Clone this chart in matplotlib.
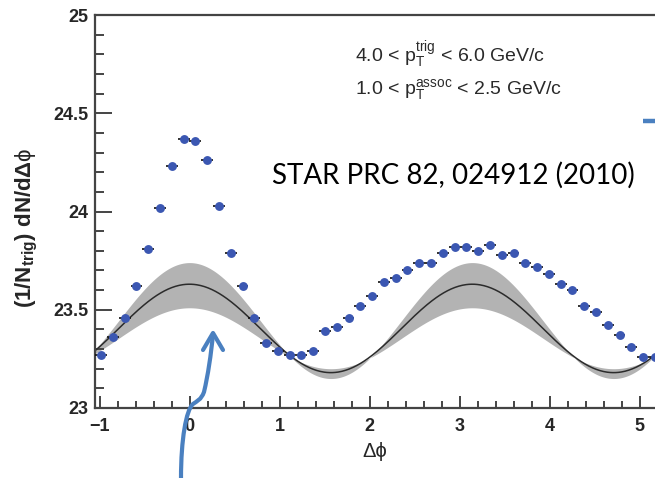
import numpy as np
import matplotlib
matplotlib.use("Agg")
import matplotlib.pyplot as plt
from matplotlib.path import Path
from matplotlib.patches import PathPatch
from matplotlib.lines import Line2D
from matplotlib.ticker import MultipleLocator
import matplotlib.transforms as mtransforms

plt.rcParams['mathtext.fontset'] = 'custom'
plt.rcParams['mathtext.rm'] = 'Liberation Sans'
plt.rcParams['mathtext.bf'] = 'Liberation Sans:bold'
plt.rcParams['mathtext.it'] = 'Liberation Sans:italic'
plt.rcParams['mathtext.fallback'] = 'stixsans'

# ---------------- data ----------------
dphi = [-0.982, -0.851, -0.720, -0.589, -0.458, -0.327, -0.196, -0.065,
        0.065, 0.196, 0.327, 0.458, 0.589, 0.720, 0.851, 0.982,
        1.113, 1.244, 1.374, 1.505, 1.636, 1.767, 1.898, 2.029,
        2.160, 2.291, 2.422, 2.553, 2.683, 2.814, 2.945, 3.076,
        3.207, 3.338, 3.469, 3.600, 3.731, 3.862, 3.993, 4.124,
        4.255, 4.386, 4.516, 4.647, 4.778, 4.909, 5.040, 5.171]
yield_vals = [23.27, 23.36, 23.46, 23.62, 23.81, 24.02, 24.23, 24.37,
              24.36, 24.26, 24.03, 23.79, 23.62, 23.46, 23.33, 23.29,
              23.27, 23.27, 23.29, 23.39, 23.41, 23.46, 23.52, 23.57,
              23.64, 23.66, 23.70, 23.74, 23.74, 23.79, 23.82, 23.82,
              23.80, 23.83, 23.78, 23.79, 23.74, 23.72, 23.68, 23.63,
              23.60, 23.52, 23.49, 23.42, 23.37, 23.31, 23.26, 23.26]
half_bin = 0.0654
yield_err = 0.008

# flow background (1 + 2 v2 cos 2dphi): max / min for high, central, low v2
flow_max = [23.74, 23.63, 23.51]
flow_min = [23.15, 23.18, 23.20]

xlim = (-1.05, 5.172)
ylim = (23.0, 25.0)
xticks = [-1, 0, 1, 2, 3, 4, 5]
yticks = [23, 23.5, 24, 24.5, 25]
ytick_labels = ['23', '23.5', '24', '24.5', '25']

W, H = 655, 478
fig = plt.figure(figsize=(W / 100, H / 100), dpi=100)
ax = fig.add_axes([95 / W, (H - 408) / H, 560 / W, 393 / H])

phi = np.linspace(xlim[0], xlim[1], 600)
curves = []
for mx, mn in zip(flow_max, flow_min):
    mean = 0.5 * (mx + mn)
    amp = 0.5 * (mx - mn)
    curves.append(mean + amp * np.cos(2 * phi))
band_lo = np.minimum(curves[0], curves[2])
band_hi = np.maximum(curves[0], curves[2])
ax.fill_between(phi, band_lo, band_hi, color='#b3b3b3', lw=0, zorder=1)
ax.plot(phi, curves[1], color='#2b2b2b', lw=1.1, zorder=2)

ax.errorbar(dphi, yield_vals, xerr=half_bin, yerr=yield_err, fmt='o',
            color='#3b57b2', ecolor='#111111', elinewidth=1.2, capsize=0,
            markersize=6.4, markeredgewidth=0, zorder=3)

ax.set_xlim(*xlim)
ax.set_ylim(*ylim)
ax.set_xticks(xticks)
ax.set_yticks(yticks)
ax.set_yticklabels(ytick_labels)
ax.xaxis.set_minor_locator(MultipleLocator(0.2))
ax.yaxis.set_minor_locator(MultipleLocator(0.1))

spine_c = '#444444'
for s in ['left', 'bottom', 'top']:
    ax.spines[s].set_color(spine_c)
    ax.spines[s].set_linewidth(1.6)
ax.spines['right'].set_visible(False)

ax.tick_params(axis='y', which='major', direction='in', length=12.5, width=1.4,
               color=spine_c, pad=5, labelsize=13, labelcolor='#262626')
ax.tick_params(axis='y', which='minor', direction='in', length=6.5, width=1.4,
               color=spine_c)
ax.tick_params(axis='x', which='major', direction='in', length=8.5, width=1.4,
               color=spine_c, pad=7, labelsize=13, labelcolor='#262626')
ax.tick_params(axis='x', which='minor', direction='in', length=5, width=1.4,
               color=spine_c)
for lab in ax.get_xticklabels() + ax.get_yticklabels():
    lab.set_fontfamily('Liberation Sans')
    lab.set_fontweight('bold')

ax.set_xlabel('Δϕ', fontsize=14.5, family=['Liberation Sans', 'DejaVu Sans'],
              color='#262626', labelpad=5)
ax.set_ylabel(r'$\mathbf{(1/N_{trig})\ dN/d\Delta}\mathrm{\phi}$', fontsize=16,
              color='#262626')
ax.yaxis.set_label_coords(-0.098, 0.458)

# pixel-based transform for annotations
pix = mtransforms.Affine2D().scale(1 / W, -1 / H).translate(0, 1) + fig.transFigure

fig.text(355, 62, r'4.0 < p$_\mathregular{T}^\mathregular{trig}$ < 6.0 GeV/c',
         transform=pix, fontsize=14, family='Liberation Sans', color='#2a2a2a',
         va='baseline', ha='left')
fig.text(355, 94, r'1.0 < p$_\mathregular{T}^\mathregular{assoc}$ < 2.5 GeV/c',
         transform=pix, fontsize=14, family='Liberation Sans', color='#2a2a2a',
         va='baseline', ha='left')

fig.text(272, 184, 'STAR PRC 82, 024912 (2010)', transform=pix, fontsize=20,
         family='Lato', color='black', va='baseline', ha='left')

arrow_c = '#4a80c0'
verts = [(181, 478), (181, 440), (186, 410), (193, 404),
         (197, 401), (201, 400), (204, 392),
         (208, 375), (211, 355), (213, 334)]
codes = [Path.MOVETO] + [Path.CURVE4] * 9
fig.patches.append(PathPatch(Path(verts, codes), transform=pix, fill=False,
                             edgecolor=arrow_c, lw=3, capstyle='round'))
fig.lines.append(Line2D([203, 213, 223], [350, 333, 350], transform=pix,
                        color=arrow_c, lw=3, solid_capstyle='round',
                        solid_joinstyle='round'))
fig.lines.append(Line2D([643, 655], [121.5, 121.5], transform=pix,
                        color=arrow_c, lw=3.2, solid_capstyle='butt'))

fig.savefig('out.png', dpi=100)
